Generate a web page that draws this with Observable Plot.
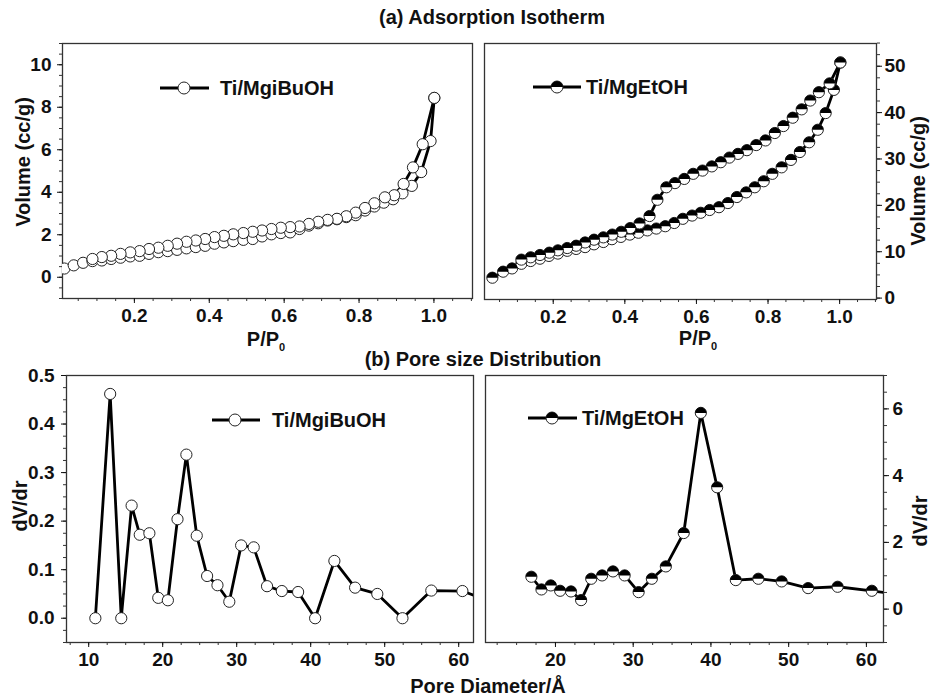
<!DOCTYPE html>
<html><head><meta charset="utf-8">
<script src="https://cdn.jsdelivr.net/npm/d3@7"></script>
<script src="https://cdn.jsdelivr.net/npm/@observablehq/plot@0.6"></script>
<style>
body{margin:0;background:#fff;}
#root{position:relative;width:930px;height:697px;overflow:hidden;font-family:"Liberation Sans",Arial,sans-serif;font-weight:bold;color:#111;background:#fff;}
.panel{position:absolute;}
.lbl{position:absolute;white-space:nowrap;font-weight:bold;line-height:1;transform:translate(-50%,-50%);z-index:5;}
.rot{writing-mode:vertical-rl;transform:translate(-50%,-50%) rotate(180deg);}
.leg{position:absolute;z-index:5;overflow:visible;}
.legtxt{position:absolute;white-space:nowrap;font-weight:bold;font-size:20px;line-height:1;transform:translateY(-50%);z-index:5;}
</style></head>
<body><div id="root"></div>
<script>
// ---------- (a) Adsorption isotherm, Ti/MgiBuOH ----------
const aLeftAdsP = [0.013,0.038,0.063,0.088,0.113,0.138,0.163,0.189,0.214,0.239,0.264,0.289,0.314,0.339,0.364,0.389,0.414,0.439,0.464,0.491,0.516,0.541,0.566,0.591,0.616,0.641,0.666,0.691,0.716,0.741,0.766,0.791,0.816,0.841,0.866,0.891,0.916,0.941,0.966,0.991,1.001];
const aLeftAdsV = [0.41,0.56,0.68,0.76,0.79,0.86,0.92,0.98,1.01,1.10,1.18,1.23,1.29,1.36,1.42,1.48,1.58,1.64,1.70,1.76,1.80,1.92,2.02,2.08,2.11,2.27,2.43,2.54,2.67,2.73,2.83,2.92,3.14,3.33,3.51,3.67,3.95,4.30,4.95,6.41,8.44];
const aLeftDesP = [1.001,0.970,0.944,0.919,0.894,0.869,0.841,0.816,0.791,0.766,0.741,0.716,0.691,0.666,0.641,0.616,0.591,0.566,0.541,0.516,0.491,0.464,0.439,0.414,0.389,0.364,0.339,0.314,0.289,0.264,0.239,0.214,0.189,0.163,0.138,0.113,0.088];
const aLeftDesV = [8.44,6.26,5.17,4.39,3.86,3.76,3.48,3.26,3.04,2.87,2.75,2.70,2.61,2.51,2.39,2.36,2.33,2.27,2.20,2.14,2.08,2.02,1.95,1.89,1.80,1.73,1.67,1.58,1.48,1.39,1.33,1.23,1.17,1.10,1.01,0.95,0.86];

// ---------- (a) Adsorption isotherm, Ti/MgEtOH ----------
const aRightAdsP = [0.030,0.060,0.085,0.111,0.137,0.163,0.188,0.213,0.239,0.264,0.289,0.314,0.340,0.364,0.389,0.414,0.438,0.463,0.488,0.513,0.538,0.562,0.588,0.612,0.637,0.663,0.688,0.713,0.739,0.763,0.788,0.812,0.838,0.864,0.889,0.915,0.939,0.961,0.984,1.002];
const aRightAdsV = [4.4,5.7,6.4,7.4,8.0,8.5,9.1,9.6,10.2,10.6,11.0,11.6,12.1,12.7,13.2,13.7,14.1,14.6,15.0,15.5,16.2,17.1,17.8,18.4,19.0,19.6,20.5,21.8,22.8,23.9,25.2,26.8,28.2,29.8,31.5,33.6,36.3,39.9,44.9,50.8];
const aRightDesP = [1.002,0.972,0.942,0.918,0.894,0.869,0.843,0.819,0.793,0.767,0.741,0.716,0.692,0.668,0.643,0.617,0.591,0.566,0.540,0.516,0.491,0.469,0.441,0.415,0.390,0.365,0.340,0.314,0.289,0.264,0.239,0.213,0.189,0.163,0.137,0.111];
const aRightDesV = [50.8,46.3,44.4,42.6,40.7,38.9,37.1,35.6,34.0,33.0,31.9,31.1,30.3,29.3,28.4,27.5,26.8,25.7,24.8,23.9,21.2,17.7,16.1,15.1,14.3,13.7,13.1,12.6,12.0,11.3,10.8,10.3,9.8,9.3,8.8,8.3];

// ---------- (b) Pore size distribution ----------
const bLeftD = [10.9,12.9,14.4,15.8,16.9,18.2,19.4,20.7,22.0,23.2,24.6,26.0,27.4,29.0,30.6,32.3,34.1,36.1,38.3,40.6,43.2,46.0,49.0,52.4,56.3,60.5,65.2];
const bLeftV = [0,0.462,0,0.232,0.172,0.175,0.042,0.037,0.204,0.337,0.170,0.087,0.068,0.034,0.150,0.146,0.066,0.056,0.054,0,0.118,0.063,0.050,0,0.057,0.056,0.030];
const bRightD = [16.9,18.2,19.4,20.6,22.0,23.3,24.6,26.0,27.4,28.9,30.7,32.4,34.2,36.5,38.7,40.8,43.2,46.1,49.1,52.5,56.3,60.7,65.2];
const bRightV = [0.97,0.59,0.71,0.55,0.53,0.27,0.91,1.01,1.13,1.01,0.51,0.91,1.28,2.28,5.88,3.65,0.87,0.91,0.83,0.63,0.67,0.55,0.40];

// ---------- tick labels ----------
const ticksP = [0.2,0.4,0.6,0.8,1.0];
const ticksVolLeft = [0,2,4,6,8,10];
const ticksVolRight = [0,10,20,30,40,50];
const ticksDLeft = [10,20,30,40,50,60];
const ticksDRight = [20,30,40,50,60];
const ticksDvLeft = [0.0,0.1,0.2,0.3,0.4,0.5];
const ticksDvRight = [0,2,4,6];

const seriesNames = ["Ti/MgiBuOH","Ti/MgEtOH"];

const toRows = (xs, ys) => xs.map((x, i) => ({x, y: ys[i]}));

const halfTop = {draw(ctx, size){const r = Math.sqrt(size / Math.PI); ctx.moveTo(r, 0); ctx.arc(0, 0, r, 0, Math.PI, true); ctx.closePath();}};

const root = document.getElementById("root");
const R = 5.6;

function panel(o) {
  const marks = [];
  marks.push(Plot.frame({stroke: "#333", strokeWidth: 1.3}));
  marks.push(Plot.axisX({ticks: o.xMinor, tickSize: 3, tickFormat: () => "", color: "#333", label: null}));
  marks.push(Plot.axisX({ticks: o.xMajor, tickSize: 5, tickPadding: 5, tickFormat: o.xFmt, fontSize: 19, fontWeight: "bold", color: "#111", label: null}));
  marks.push(Plot.axisY({anchor: o.yAnchor, ticks: o.yMinor, tickSize: 3, tickFormat: () => "", color: "#333", label: null}));
  marks.push(Plot.axisY({anchor: o.yAnchor, ticks: o.yMajor, tickSize: 5, tickPadding: o.yPad, tickFormat: o.yFmt, fontSize: 19, fontWeight: "bold", color: "#111", label: null}));
  for (const s of o.series) marks.push(Plot.line(s, {x: "x", y: "y", stroke: "#000", strokeWidth: 2.8, clip: true}));
  for (const s of o.series) {
    marks.push(Plot.dot(s, {x: "x", y: "y", r: R, fill: "#fff", stroke: "#222", strokeWidth: 1, clip: true}));
    if (o.half) marks.push(Plot.dot(s, {x: "x", y: "y", r: R, symbol: halfTop, fill: "#000", stroke: "none", clip: true}));
  }
  const svg = Plot.plot({
    width: o.width, height: o.height,
    marginLeft: o.ml, marginRight: o.mr, marginTop: o.mt, marginBottom: o.mb,
    x: {domain: o.xDomain, label: null},
    y: {domain: o.yDomain, label: null},
    style: {fontFamily: "'Liberation Sans', Arial, sans-serif", background: "transparent", overflow: "visible"},
    marks
  });
  svg.classList.add("panel");
  svg.style.left = o.left + "px";
  svg.style.top = o.top + "px";
  root.appendChild(svg);
}

const f1 = d3.format(".1f"), f0 = d3.format("d");

panel({left: 0, top: 0, width: 480, height: 350, ml: 62, mr: 8, mt: 43, mb: 52,
  xDomain: [0.008, 1.103], yDomain: [-1, 11],
  xMajor: ticksP, xMinor: d3.range(0.05, 1.101, 0.05), xFmt: f1,
  yMajor: ticksVolLeft, yMinor: d3.range(-1, 11.01, 0.5), yFmt: f0, yAnchor: "left", yPad: 6,
  series: [toRows(aLeftAdsP, aLeftAdsV), toRows(aLeftDesP, aLeftDesV)], half: false});

panel({left: 480, top: 0, width: 450, height: 350, ml: 4, mr: 54, mt: 43, mb: 51,
  xDomain: [0.008, 1.103], yDomain: [-0.3, 54.9],
  xMajor: ticksP, xMinor: d3.range(0.05, 1.101, 0.05), xFmt: f1,
  yMajor: ticksVolRight, yMinor: d3.range(0, 55.01, 2.5), yFmt: f0, yAnchor: "right", yPad: 3,
  series: [toRows(aRightAdsP, aRightAdsV), toRows(aRightDesP, aRightDesV)], half: true});

panel({left: 0, top: 350, width: 480, height: 347, ml: 66, mr: 7, mt: 25, mb: 55,
  xDomain: [7, 62], yDomain: [-0.05, 0.5],
  xMajor: ticksDLeft, xMinor: d3.range(7.5, 62, 2.5), xFmt: f0,
  yMajor: ticksDvLeft, yMinor: d3.range(-0.05, 0.501, 0.025), yFmt: f1, yAnchor: "left", yPad: 7,
  series: [toRows(bLeftD, bLeftV)], half: false});

panel({left: 480, top: 350, width: 450, height: 347, ml: 5, mr: 47, mt: 25, mb: 55,
  xDomain: [11, 62.2], yDomain: [-1, 7],
  xMajor: ticksDRight, xMinor: d3.range(12.5, 62.2, 2.5), xFmt: f0,
  yMajor: ticksDvRight, yMinor: d3.range(-1, 7.01, 0.5), yFmt: f0, yAnchor: "right", yPad: 4,
  series: [toRows(bRightD, bRightV)], half: true});

// ---------- text overlay ----------
function label(text, x, y, size, rot) {
  const d = document.createElement("div");
  d.className = "lbl" + (rot ? " rot" : "");
  d.style.left = x + "px"; d.style.top = y + "px"; d.style.fontSize = size + "px";
  d.innerHTML = text;
  root.appendChild(d);
}
label("(a) Adsorption Isotherm", 492, 17, 20);
label("(b) Pore size Distribution", 483, 359, 20);
label("Pore Diameter/Å", 488, 686, 20);
label('P/P<sub style="font-size:11px;vertical-align:-5px">0</sub>', 266, 341, 20);
label('P/P<sub style="font-size:11px;vertical-align:-5px">0</sub>', 698, 340, 20);
label("Volume (cc/g)", 23, 162, 20, true);
label("Volume (cc/g)", 918, 181, 20, true);
label("dV/dr", 20, 506, 20, true);
label("dV/dr", 920, 521, 20, true);

// ---------- legends ----------
function legend(name, x1, x2, cx, y, tx, half) {
  const ns = "http://www.w3.org/2000/svg";
  const svg = document.createElementNS(ns, "svg");
  svg.setAttribute("class", "leg");
  svg.setAttribute("width", 930); svg.setAttribute("height", 697);
  svg.style.left = "0px"; svg.style.top = "0px"; svg.style.pointerEvents = "none";
  const ln = document.createElementNS(ns, "line");
  ln.setAttribute("x1", x1); ln.setAttribute("x2", x2); ln.setAttribute("y1", y); ln.setAttribute("y2", y);
  ln.setAttribute("stroke", "#000"); ln.setAttribute("stroke-width", 3);
  svg.appendChild(ln);
  const c = document.createElementNS(ns, "circle");
  c.setAttribute("cx", cx); c.setAttribute("cy", y); c.setAttribute("r", 6);
  c.setAttribute("fill", "#fff"); c.setAttribute("stroke", "#222"); c.setAttribute("stroke-width", 1);
  svg.appendChild(c);
  if (half) {
    const p = document.createElementNS(ns, "path");
    p.setAttribute("d", `M${cx + 6},${y} A6,6 0 0 0 ${cx - 6},${y} Z`);
    p.setAttribute("fill", "#000");
    svg.appendChild(p);
  }
  root.appendChild(svg);
  const t = document.createElement("div");
  t.className = "legtxt"; t.style.left = tx + "px"; t.style.top = y + "px";
  t.textContent = name;
  root.appendChild(t);
}
legend(seriesNames[0], 160, 209, 184, 88, 220, false);
legend(seriesNames[1], 533, 581, 557, 87, 586, true);
legend(seriesNames[0], 212, 260, 235, 420, 272, false);
legend(seriesNames[1], 528, 577, 552, 418, 582, true);
</script>
</body></html>
